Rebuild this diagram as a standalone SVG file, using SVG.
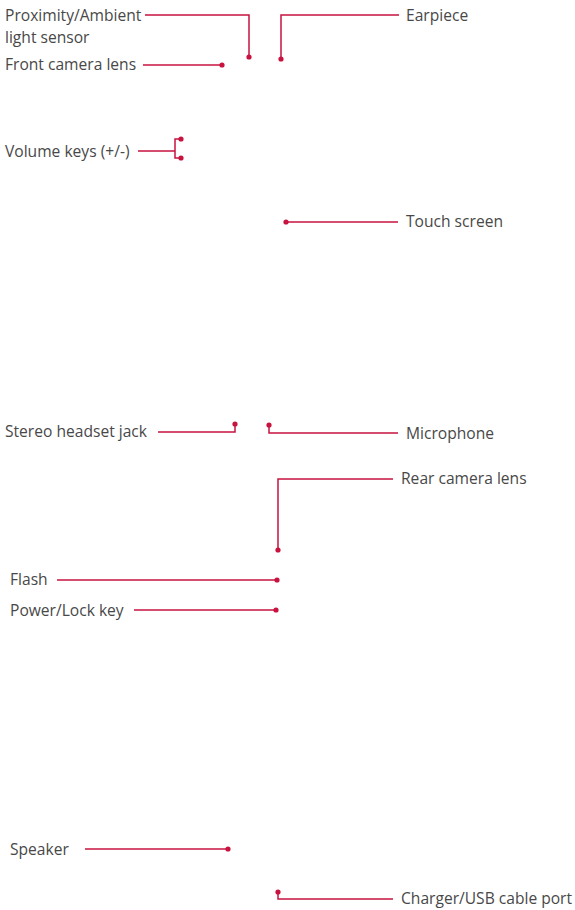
<svg xmlns="http://www.w3.org/2000/svg" width="575" height="910" viewBox="0 0 575 910">
<style>
text{font-family:"Open Sans","Noto Sans",sans-serif;font-size:15.6px;fill:#484848;}
.c{fill:none;stroke:#c8133f;stroke-width:1.5;}
.d{fill:#c8133f;}
</style>
<rect width="575" height="910" fill="#fff"/>
<g id="connectors">
<path class="c" d="M145 15H249V57"/><circle class="d" cx="249" cy="57" r="2.6"/>
<path class="c" d="M143 65H222"/><circle class="d" cx="222" cy="65" r="2.6"/>
<path class="c" d="M399 15H281V59"/><circle class="d" cx="281" cy="59" r="2.6"/>
<path class="c" d="M138 151H175M181 139H175V158H181"/><circle class="d" cx="181" cy="139" r="2.6"/><circle class="d" cx="181" cy="158" r="2.6"/>
<path class="c" d="M286 222H398"/><circle class="d" cx="286" cy="222" r="2.6"/>
<path class="c" d="M158 432H235V424"/><circle class="d" cx="235" cy="424" r="2.6"/>
<path class="c" d="M269 425V433H398"/><circle class="d" cx="269" cy="425" r="2.6"/>
<path class="c" d="M393 479H278V550"/><circle class="d" cx="278" cy="550" r="2.6"/>
<path class="c" d="M57 580H277"/><circle class="d" cx="277" cy="580" r="2.6"/>
<path class="c" d="M134 610H276"/><circle class="d" cx="276" cy="610" r="2.6"/>
<path class="c" d="M85 849H228"/><circle class="d" cx="228" cy="849" r="2.6"/>
<path class="c" d="M278 892V899H393"/><circle class="d" cx="278" cy="892" r="2.6"/>
</g>
<g id="proximity"><text x="5" y="21">Proximity/Ambient</text><text x="5" y="43">light sensor</text></g>
<g id="front-camera"><text x="5" y="70">Front camera lens</text></g>
<g id="earpiece"><text x="406" y="21">Earpiece</text></g>
<g id="volume"><text x="5" y="157">Volume keys (+/-)</text></g>
<g id="touch"><text x="406" y="227">Touch screen</text></g>
<g id="headset"><text x="5" y="437">Stereo headset jack</text></g>
<g id="microphone"><text x="406" y="439">Microphone</text></g>
<g id="rear-camera"><text x="401" y="484">Rear camera lens</text></g>
<g id="flash"><text x="10" y="585">Flash</text></g>
<g id="power"><text x="10" y="616">Power/Lock key</text></g>
<g id="speaker"><text x="10" y="855">Speaker</text></g>
<g id="charger"><text x="401" y="904">Charger/USB cable port</text></g>
</svg>
